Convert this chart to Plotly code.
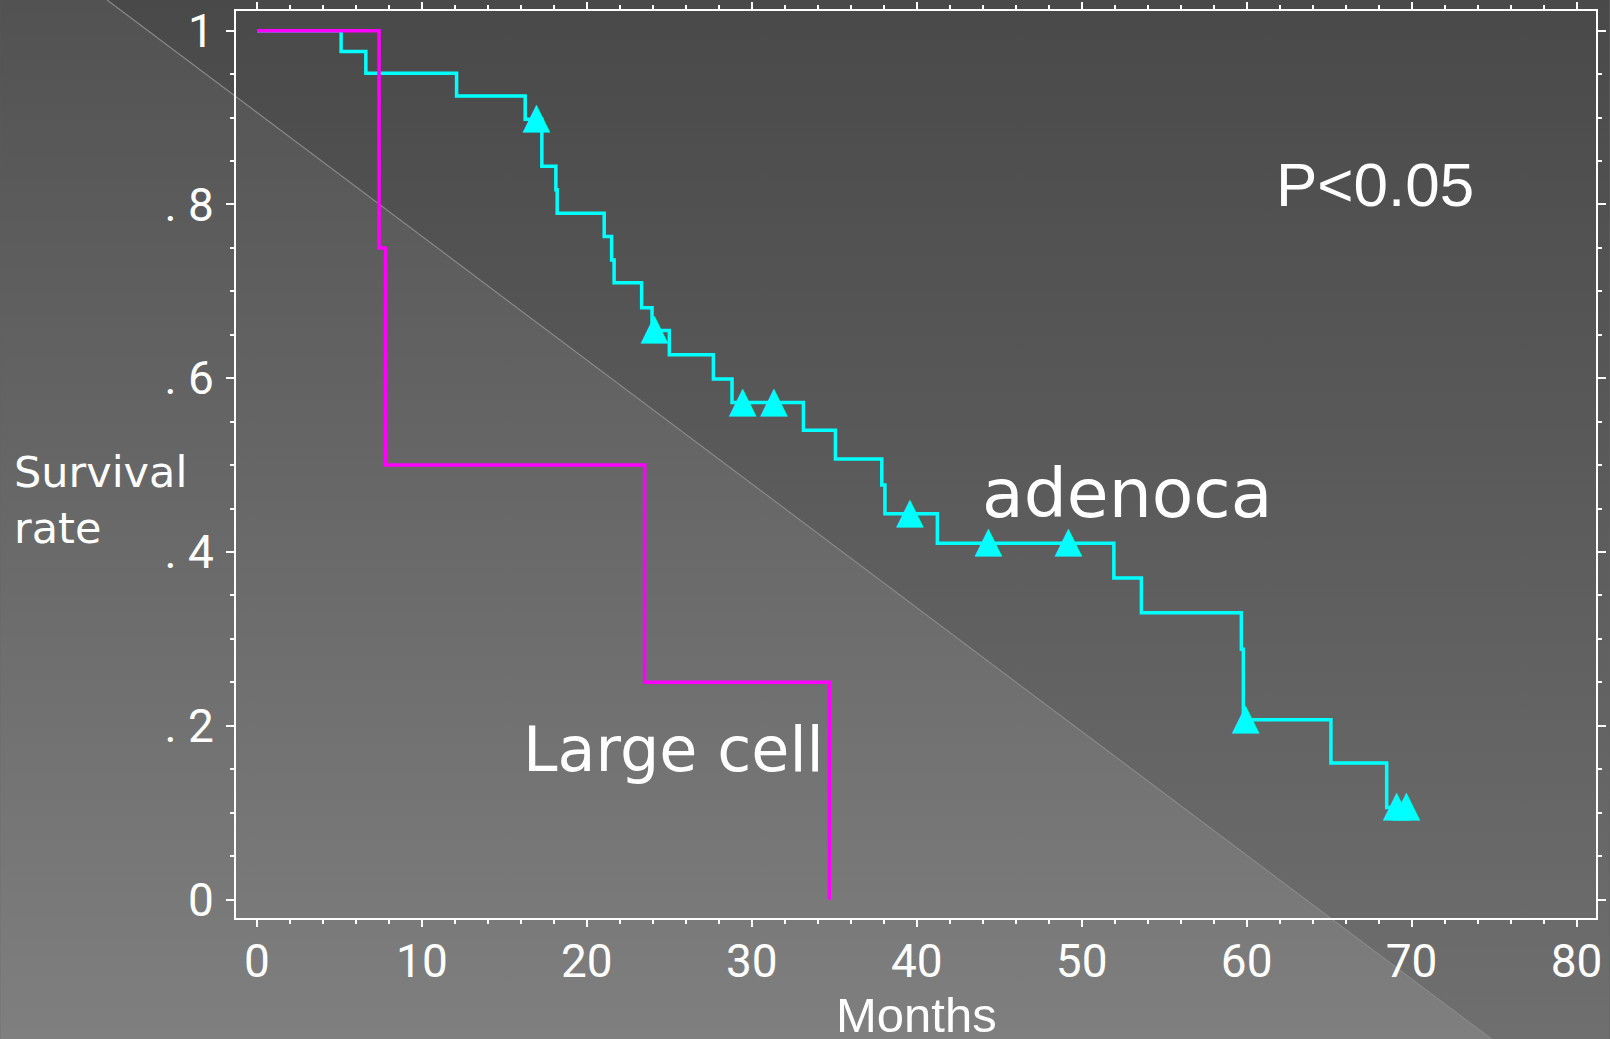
import base64
import plotly.graph_objects as go

# ---------------- data ----------------
adeno_months = [0, 5.1, 6.6, 12.1, 16.26, 17.27, 18.12, 18.2, 21.05, 21.5, 21.65,
                23.32, 23.95, 25.0, 27.67, 28.8, 33.13, 35.07, 37.88, 38.07, 41.25,
                51.95, 53.62, 59.68, 59.8, 65.11, 68.49, 69.7]
adeno_surv = [1.0, 0.976, 0.951, 0.925, 0.898, 0.844, 0.817, 0.790, 0.763, 0.736, 0.710,
              0.681, 0.655, 0.627, 0.599, 0.572, 0.540, 0.507, 0.477, 0.444, 0.410,
              0.370, 0.330, 0.288, 0.207, 0.157, 0.106, 0.106]

adeno_censor_months = [16.95, 24.1, 29.45, 31.35, 39.6, 44.35, 49.2, 59.95, 69.1, 69.7]
adeno_censor_surv = [0.898, 0.655, 0.572, 0.572, 0.444, 0.410, 0.410, 0.207, 0.106, 0.106]

large_months = [0, 7.4, 7.8, 23.5, 34.7]
large_surv = [1.0, 0.75, 0.5, 0.25, 0.0]

x_tickvals = [0, 10, 20, 30, 40, 50, 60, 70, 80]
x_ticktext = ["0", "10", "20", "30", "40", "50", "60", "70", "80"]
y_tickvals = [0, 0.2, 0.4, 0.6, 0.8, 1.0]
y_ticktext = ["0", ". 2", ". 4", ". 6", ". 8", "1"]

# ---------------- figure geometry ----------------
W, H = 1610, 1039
ML, MR, MT, MB = 236, 13.5, 11, 121
PW = W - ML - MR
PH = H - MT - MB


def px_to_paper_x(px):
    return (px - ML) / PW


def px_to_paper_y(py):
    return (H - MB - py) / PH


# slide-like background: two vertical gradients split by a diagonal line
svg = f"""<svg xmlns='http://www.w3.org/2000/svg' width='{W}' height='{H}' viewBox='0 0 {W} {H}' preserveAspectRatio='none'>
<defs>
<linearGradient id='a' x1='0' y1='0' x2='0' y2='1'><stop offset='0' stop-color='#525252'/><stop offset='1' stop-color='#7f7f7f'/></linearGradient>
<linearGradient id='b' x1='0' y1='0' x2='0' y2='1'><stop offset='0' stop-color='#494949'/><stop offset='1' stop-color='#6f6f6f'/></linearGradient>
</defs>
<rect x='0' y='0' width='{W}' height='{H}' fill='url(#a)'/>
<polygon points='107,0 {W},0 {W},{H} 1492,{H}' fill='url(#b)'/>
<line x1='107' y1='0' x2='1492' y2='{H}' stroke='#888888' stroke-width='1.2'/>
</svg>"""
bg_uri = "data:image/svg+xml;base64," + base64.b64encode(svg.encode()).decode()

fig = go.Figure()
fig.add_trace(go.Scatter(
    x=adeno_months, y=adeno_surv, mode="lines",
    line=dict(color="#00FFFF", width=3.5, shape="hv"), name="adenoca",
    hoverinfo="skip"))
# censoring marks drawn as centred solid triangles (glyph) at the data points
fig.add_trace(go.Scatter(
    x=adeno_censor_months, y=adeno_censor_surv, mode="text",
    text=["▲"] * len(adeno_censor_months), textposition="middle center",
    textfont=dict(family="DejaVu Sans, sans-serif", size=36, color="#00FFFF"),
    name="censored", hoverinfo="skip", cliponaxis=False))
fig.add_trace(go.Scatter(
    x=large_months, y=large_surv, mode="lines",
    line=dict(color="#FF00FF", width=3.5, shape="hv"), name="Large cell",
    hoverinfo="skip"))

tick_font = dict(family="Roboto, Liberation Sans, Arial, sans-serif",
                 size=46, color="white")

fig.update_layout(
    width=W, height=H,
    margin=dict(l=ML, r=MR, t=MT, b=MB, pad=0, autoexpand=False),
    paper_bgcolor="#5e5e5e",
    plot_bgcolor="rgba(0,0,0,0)",
    showlegend=False,
    images=[dict(source=bg_uri, xref="paper", yref="paper",
                 x=px_to_paper_x(0), y=px_to_paper_y(0),
                 sizex=W / PW, sizey=H / PH, sizing="stretch",
                 xanchor="left", yanchor="top", layer="below")],
    xaxis=dict(
        range=[-1.273, 81.18], tickmode="array", tickvals=x_tickvals, ticktext=x_ticktext,
        showline=True, linecolor="white", linewidth=2, mirror="ticks",
        ticks="outside", ticklen=7, tickwidth=2, tickcolor="white", automargin=False,
        showgrid=False, zeroline=False, tickfont=tick_font, ticklabelstandoff=-5,
        minor=dict(dtick=2, tick0=0, ticks="outside", ticklen=4, tickwidth=2,
                   tickcolor="white", showgrid=False),
    ),
    yaxis=dict(
        range=[-0.0213, 1.0227], tickmode="array", tickvals=y_tickvals, ticktext=y_ticktext,
        showline=True, linecolor="white", linewidth=2, mirror="ticks",
        ticks="outside", ticklen=8, tickwidth=2, tickcolor="white", automargin=False,
        showgrid=False, zeroline=False, tickfont=tick_font, ticklabelstandoff=3,
        minor=dict(dtick=0.05, tick0=0, ticks="outside", ticklen=4, tickwidth=2,
                   tickcolor="white", showgrid=False),
    ),
)

label_font = "DejaVu Sans, Verdana, sans-serif"
fig.add_annotation(text="adenoca", xref="paper", yref="paper",
                   x=px_to_paper_x(1127), y=px_to_paper_y(493),
                   xanchor="center", yanchor="middle", showarrow=False,
                   font=dict(family=label_font, size=68, color="white"))
fig.add_annotation(text="Large cell", xref="paper", yref="paper",
                   x=px_to_paper_x(674), y=px_to_paper_y(749.5),
                   xanchor="center", yanchor="middle", showarrow=False,
                   font=dict(family=label_font, size=62, color="white"))
fig.add_annotation(text="P<0.05", xref="paper", yref="paper",
                   x=px_to_paper_x(1375), y=px_to_paper_y(184.2),
                   xanchor="center", yanchor="middle", showarrow=False,
                   font=dict(family="Liberation Sans, Arial, sans-serif", size=62, color="white"))
fig.add_annotation(text="Survival<br>rate", xref="paper", yref="paper",
                   x=px_to_paper_x(12), y=px_to_paper_y(500),
                   xanchor="left", yanchor="middle", align="left", showarrow=False,
                   font=dict(family=label_font, size=43, color="white"))
fig.add_annotation(text="Months", xref="paper", yref="paper",
                   x=px_to_paper_x(917), y=px_to_paper_y(1015),
                   xanchor="center", yanchor="middle", showarrow=False,
                   font=dict(family="Liberation Sans, Arial, sans-serif", size=49, color="white"))

fig.write_html("out.html")
